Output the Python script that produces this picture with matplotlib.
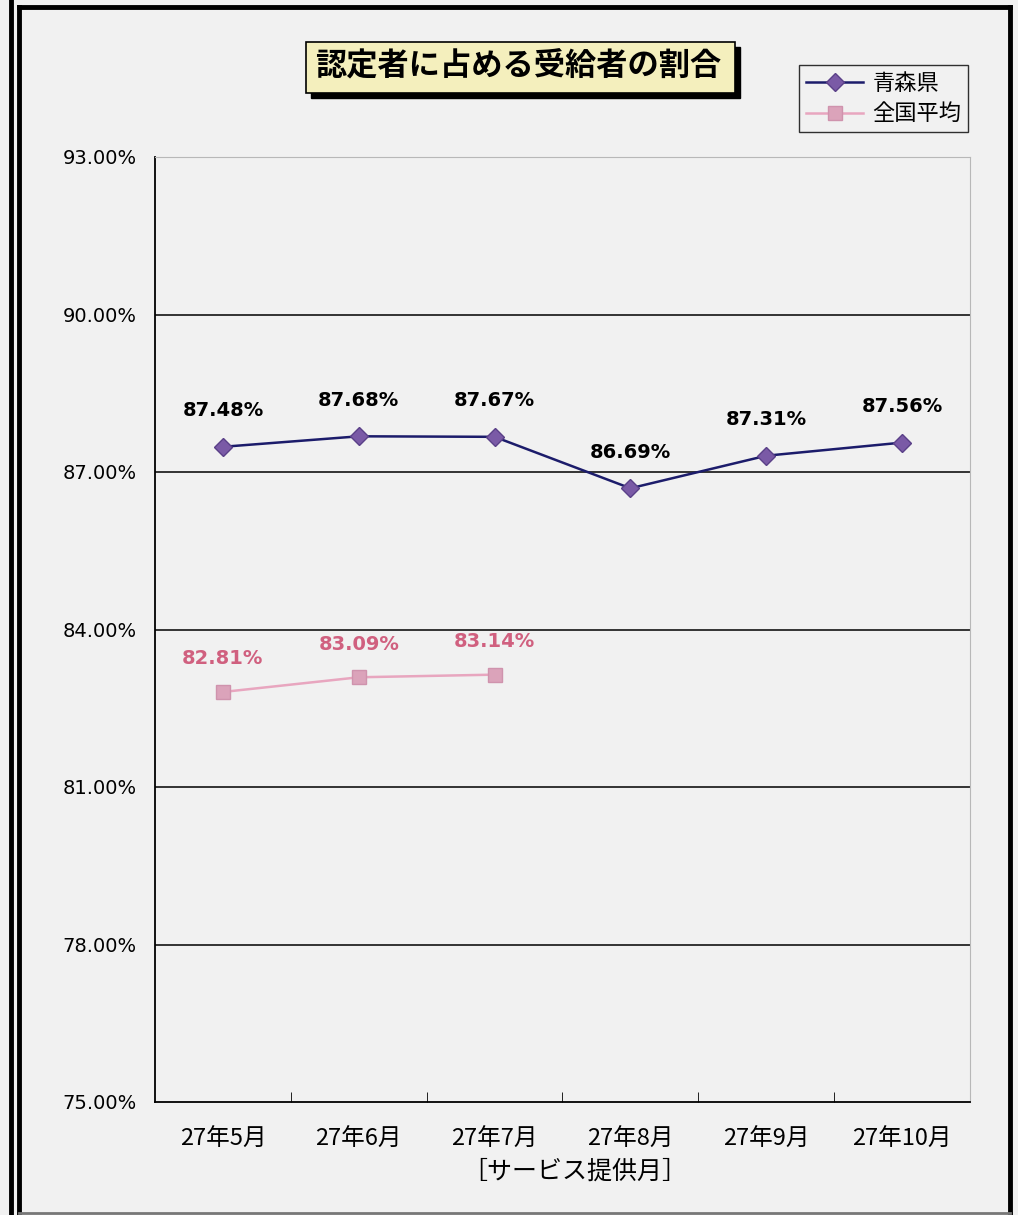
import matplotlib
matplotlib.use("Agg")
import matplotlib.pyplot as plt
from matplotlib.patches import Rectangle
from matplotlib.lines import Line2D

plt.rcParams['font.family'] = ['Noto Sans CJK JP', 'DejaVu Sans']

categories = ["27年5月", "27年6月", "27年7月", "27年8月", "27年9月", "27年10月"]
aomori = [87.48, 87.68, 87.67, 86.69, 87.31, 87.56]
national = [82.81, 83.09, 83.14]
series_names = ["青森県", "全国平均"]
title = "認定者に占める受給者の割合"
xlabel = "［サービス提供月］"
yticks = [75, 78, 81, 84, 87, 90, 93]

W, H = 1018, 1215
bg = "#f1f1f1"
fig = plt.figure(figsize=(W / 100, H / 100), dpi=100, facecolor=bg)

def fx(px):
    return px / W

def fy(py):
    return 1 - py / H

# outer borders
fig.add_artist(Line2D([fx(11), fx(11)], [0, 1], color="black", lw=3.5, transform=fig.transFigure))
fig.add_artist(Line2D([fx(19), fx(19)], [0, fy(7)], color="black", lw=3.5, transform=fig.transFigure))
fig.add_artist(Line2D([fx(19), fx(1010)], [fy(7), fy(7)], color="black", lw=3.5, transform=fig.transFigure))
fig.add_artist(Line2D([fx(1010), fx(1010)], [0, fy(7)], color="black", lw=3.5, transform=fig.transFigure))
fig.add_artist(Line2D([fx(19), fx(1010)], [fy(1213), fy(1213)], color="#777777", lw=2, transform=fig.transFigure))

ax = fig.add_axes([fx(155), fy(1102), fx(970) - fx(155), fy(157) - fy(1102)])
ax.set_facecolor(bg)

x = list(range(len(categories)))
xn = x[:len(national)]

ax.plot(x, aomori, color="#1c1c6b", lw=1.8, marker="D", markersize=9,
        markerfacecolor="#7a5aa6", markeredgecolor="#5a4088", zorder=3, label=series_names[0])
ax.plot(xn, national, color="#e8a6bf", lw=1.8, marker="s", markersize=10,
        markerfacecolor="#dba3ba", markeredgecolor="#cf93ad", zorder=3, label=series_names[1])

for xi, v in zip(x, aomori):
    ax.annotate(f"{v:.2f}%", (xi, v), xytext=(0, 19), textcoords="offset points",
                ha="center", va="bottom", fontsize=14, fontweight="bold", color="black",
                family=["DejaVu Sans"])
for xi, v in zip(xn, national):
    ax.annotate(f"{v:.2f}%", (xi, v), xytext=(0, 17), textcoords="offset points",
                ha="center", va="bottom", fontsize=14, fontweight="bold", color="#d0607f",
                family=["DejaVu Sans"])

ax.set_xlim(-0.5, len(categories) - 0.5)
ax.set_ylim(75, 93)
ax.set_yticks(yticks)
ax.set_yticklabels([f"{t:.2f}%" for t in yticks], fontsize=14, family=["DejaVu Sans"])
ax.set_xticks(x)
ax.set_xticklabels(categories, fontsize=17)
ax.set_xticks([i + 0.5 for i in range(len(categories) - 1)], minor=True)
ax.tick_params(axis="x", which="major", length=0, pad=19)
ax.tick_params(axis="x", which="minor", length=7, direction="in", color="black")
ax.tick_params(axis="y", length=0, pad=13)

for t in yticks[1:-1]:
    ax.axhline(t, color="black", lw=1.1, zorder=1)

ax.spines["left"].set_color("black")
ax.spines["bottom"].set_color("black")
ax.spines["left"].set_linewidth(1.3)
ax.spines["bottom"].set_linewidth(1.3)
ax.spines["top"].set_color("#b8b8b8")
ax.spines["right"].set_color("#b8b8b8")

fig.text(fx(575), fy(1172), xlabel, ha="center", va="center", fontsize=18)

# title box with shadow
fig.add_artist(Rectangle((fx(311), fy(98)), fx(735) - fx(306), fy(42) - fy(93),
                         transform=fig.transFigure, facecolor="black", edgecolor="black"))
fig.add_artist(Rectangle((fx(306), fy(93)), fx(735) - fx(306), fy(42) - fy(93),
                         transform=fig.transFigure, facecolor="#f4efbd", edgecolor="black", lw=1.2))
fig.text(fx(518), fy(66), title, ha="center", va="center", fontsize=22.5, fontweight="bold")

leg = ax.legend(loc="upper right", bbox_to_anchor=(fx(968), fy(65)), bbox_transform=fig.transFigure,
                fontsize=16, frameon=True, fancybox=False, handlelength=2.6, borderpad=0.3,
                labelspacing=0.35, handletextpad=0.4, borderaxespad=0)
leg.get_frame().set_edgecolor("black")
leg.get_frame().set_facecolor(bg)
leg.get_frame().set_linewidth(1.0)

fig.savefig("out.png", dpi=100, facecolor=bg)
